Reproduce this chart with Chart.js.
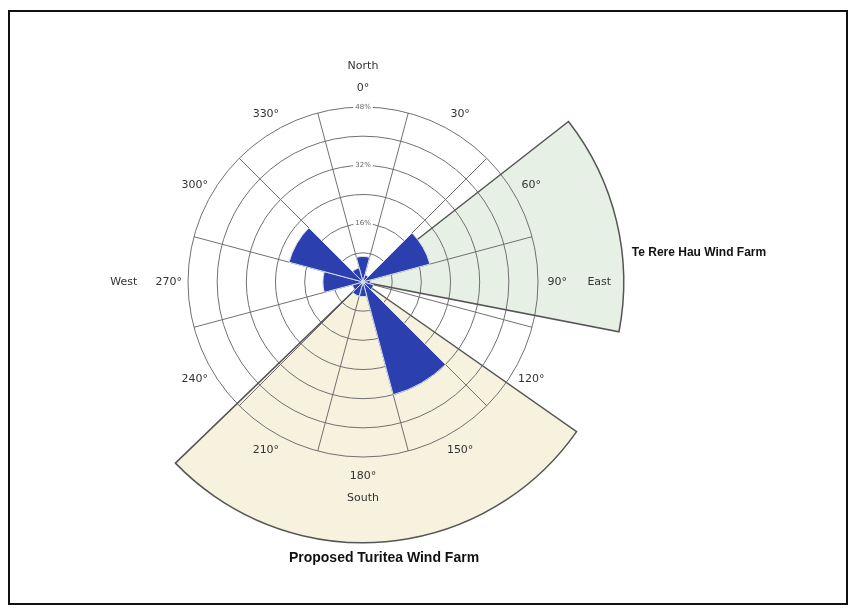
<!DOCTYPE html>
<html>
<head>
<meta charset="utf-8">
<script src="https://cdn.jsdelivr.net/npm/chart.js@4.4.1/dist/chart.umd.min.js"></script>
<style>
html, body { margin: 0; padding: 0; background: #fff; }
#wrap { position: relative; width: 855px; height: 612px; }
#frame { position: absolute; left: 8px; top: 10px; width: 840px; height: 595px; border: 2px solid #111; box-sizing: border-box; }
#rose { position: absolute; left: 0; top: 0; }
</style>
</head>
<body>
<div id="wrap">
    <div id="frame"></div>
    <canvas id="rose" width="855" height="612"></canvas>
</div>
<script>
// wind direction sectors (centre bearing of each 30 degree sector)
const directions = ['0°', '30°', '60°', '90°', '120°', '150°', '180°', '210°', '240°', '270°', '300°', '330°'];
const compass = ['North', '', '', 'East', '', '', 'South', '', '', 'West', '', ''];
// % of time wind blows from each sector
const frequency = [7, 2, 19, 2, 3, 32, 4, 4, 3, 11, 21, 4];
const ringTicks = [16, 32, 48];

// wind farm bearings seen from the site
const farmNames = ['Te Rere Hau Wind Farm', 'Proposed Turitea Wind Farm'];
const farmFrom = [52, 125];
const farmTo = [101, 226];
const farmColors = ['#e7f0e4', '#f6f2dd'];

const toRad = (deg) => (deg - 90) * Math.PI / 180;

const farmWedges = {
    id: "farmWedges",
    beforeDraw(chart) {
        const r = chart.scales.r;
        const ctx = chart.ctx;
        const rad = r.drawingArea * 1.49;
        ctx.save();
        for (let i = 0; i < farmNames.length; i++) {
            ctx.beginPath();
            ctx.moveTo(r.xCenter, r.yCenter);
            ctx.arc(r.xCenter, r.yCenter, rad, toRad(farmFrom[i]), toRad(farmTo[i]));
            ctx.closePath();
            ctx.fillStyle = farmColors[i];
            ctx.fill();
        }
        ctx.restore();
    },
    beforeDatasetsDraw(chart) {
        const r = chart.scales.r;
        const ctx = chart.ctx;
        const rad = r.drawingArea * 1.49;
        ctx.save();
        ctx.strokeStyle = "#555";
        ctx.lineWidth = 1.5;
        for (let i = 0; i < farmNames.length; i++) {
            ctx.beginPath();
            ctx.moveTo(r.xCenter, r.yCenter);
            ctx.arc(r.xCenter, r.yCenter, rad, toRad(farmFrom[i]), toRad(farmTo[i]));
            ctx.closePath();
            ctx.stroke();
        }
        // ring percentages on the north axis
        ctx.font = "7px 'DejaVu Sans'";
        ctx.textAlign = "center";
        ctx.textBaseline = "middle";
        ringTicks.forEach((v) => {
            const y = r.yCenter - r.getDistanceFromCenterForValue(v);
            const w = ctx.measureText(v + "%").width;
            ctx.fillStyle = "#fff";
            ctx.fillRect(r.xCenter - w / 2 - 2, y - 4, w + 4, 8);
            ctx.fillStyle = "#666";
            ctx.fillText(v + "%", r.xCenter, y);
        });
        ctx.restore();
    },
    afterDraw(chart) {
        const r = chart.scales.r;
        const ctx = chart.ctx;
        const cx = r.xCenter, cy = r.yCenter, R = r.drawingArea;
        ctx.save();
        ctx.fillStyle = "#333";
        ctx.font = "11px 'DejaVu Sans'";
        ctx.textAlign = "center";
        ctx.textBaseline = "middle";
        directions.forEach((lab, i) => {
            const a = toRad(i * 30);
            const x = cx + Math.cos(a) * R * 1.11;
            const y = cy + Math.sin(a) * R * 1.11;
            ctx.fillText(lab, x, y);
            if (compass[i] === "North") ctx.fillText(compass[i], x, y - 22);
            if (compass[i] === "South") ctx.fillText(compass[i], x, y + 22);
            if (compass[i] === "East") ctx.fillText(compass[i], x + 42, y);
            if (compass[i] === "West") ctx.fillText(compass[i], x - 45, y);
        });

        ctx.fillStyle = "#111";
        ctx.font = "bold 12px 'Liberation Sans'";
        ctx.fillText(farmNames[0], cx + R * 1.92, cy - R * 0.17);
        ctx.font = "bold 14px 'Liberation Sans'";
        ctx.fillText(farmNames[1], cx + R * 0.12, cy + R * 1.58);
        ctx.restore();
    }
};

new Chart(document.getElementById("rose").getContext("2d"), {
    type: "polarArea",
    data: {
        labels: directions,
        datasets: [{
            data: frequency,
            backgroundColor: "#2b3fae",
            borderColor: "#d5dcf0",
            borderWidth: 1
        }]
    },
    options: {
        responsive: false,
        animation: false,
        layout: { padding: { left: 184, right: 312, top: 103, bottom: 150 } },
        plugins: { legend: { display: false }, tooltip: { enabled: false } },
        scales: {
            r: {
                min: 0,
                max: 48,
                startAngle: -15,
                grid: { circular: true, color: "#707070", lineWidth: 1 },
                angleLines: { display: true, color: "#707070", lineWidth: 1 },
                pointLabels: { display: false },
                ticks: {
                    stepSize: 8,
                    color: "rgba(0,0,0,0)",
                    font: { size: 7, family: "DejaVu Sans" },
                    backdropPadding: { x: 2, y: 1 },
                    showLabelBackdrop: false,
                    callback: () => ""
                }
            }
        }
    },
    plugins: [farmWedges]
});
</script>
</body>
</html>
